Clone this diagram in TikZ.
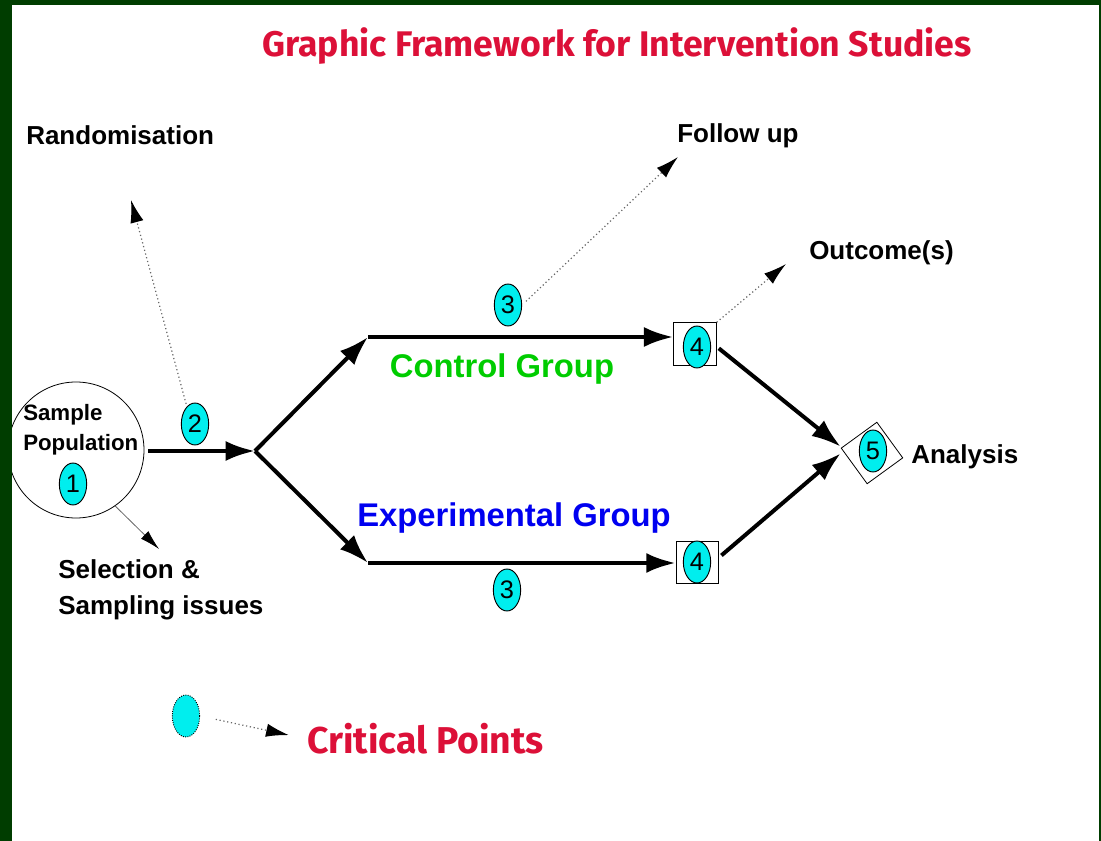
\documentclass[tikz,border=0pt]{standalone}
\usepackage{fontspec}
\setmainfont{Liberation Sans}
\newfontfamily\comicfont{Fira Sans}
\usetikzlibrary{arrows.meta,shapes.geometric}

\definecolor{framegreen}{RGB}{0,61,0}
\definecolor{critcyan}{RGB}{0,238,238}
\definecolor{titlered}{RGB}{220,16,56}
\definecolor{ctlgreen}{RGB}{0,204,0}
\definecolor{expblue}{RGB}{0,0,240}

\tikzset{
  crit/.style={ellipse, draw, line width=0.7pt, fill=critcyan, inner sep=0pt, minimum width=20.5pt,
    minimum height=31.5pt, font=\fontsize{19}{19}\selectfont},
  flow/.style={line width=3pt, -{Latex[length=22pt,width=15pt]}},
  hint/.style={black!60, dotted, line width=0.9pt, -{Latex[length=17pt,width=10pt,color=black]}},
  lbl/.style={inner sep=0pt, align=left, font=\bfseries\fontsize{19.5}{27}\selectfont},
  grouplbl/.style={inner sep=0pt, font=\bfseries\fontsize{24.6}{28}\selectfont},
  redlbl/.style={inner sep=0pt, text=titlered, font=\comicfont\bfseries\fontsize{26.7}{28}\selectfont}
}

\begin{document}
\begin{tikzpicture}[x=0.75pt, y=-0.75pt]
\useasboundingbox (0,0) rectangle (1101,841);

\node[redlbl] (title) at (617,46) {Graphic Framework for Intervention Studies};

% population and randomisation
\node[circle, draw, line width=0.6pt, minimum size=102pt, inner sep=0pt] (pop) at (76,450) {};
\node[anchor=west, inner sep=0pt, align=left, font=\bfseries\fontsize{16.7}{22.5}\selectfont] (poptxt) at (23,430) {Sample\\Population};
\node[crit] (c1) at (73,484) {1};
\node[crit] (c2) at (195,424) {2};
\node[lbl, anchor=west] (rand) at (26,135) {Randomisation};
\node[lbl, anchor=west] (sel) at (58,590) {Selection \&\\Sampling issues};

\coordinate (fork) at (255,451);
\coordinate (ctl) at (368,337);
\coordinate (exp) at (368,563);
\coordinate (randtip) at (131,200);
\coordinate (seltip) at (159,549);

% groups
\node[grouplbl, text=ctlgreen] (ctllbl) at (502,369) {Control Group};
\node[grouplbl, text=expblue] (explbl) at (514,518) {Experimental Group};
\node[crit] (c3a) at (508,305) {3};
\node[crit] (c3b) at (507,590) {3};
\node[draw, line width=0.6pt, minimum size=32pt, inner sep=0pt] (b4a) at (695,344) {};
\node[crit] (c4a) at (697,347) {4};
\node[draw, line width=0.6pt, minimum size=31.5pt, inner sep=0pt] (b4b) at (697,562) {};
\node[crit] (c4b) at (697,562) {4};
\node[lbl, anchor=west] (follow) at (677,136) {Follow up};
\node[lbl, anchor=west] (outc) at (809,253) {Outcome(s)};
\coordinate (followtip) at (678,157);
\coordinate (outtip) at (786,264);

% analysis
\node[draw, line width=0.6pt, rotate=36, minimum size=33pt, inner sep=0pt] (dia) at (872,453) {};
\node[crit] (c5) at (873,451) {5};
\node[lbl, anchor=west] (anal) at (911,457) {Analysis};

\draw[flow, shorten <=3pt] (pop.east |- fork) -- (fork);
\draw[flow] (fork) -- (ctl);
\draw[flow] (fork) -- (exp);
\draw[flow] (ctl) -- (ctl -| b4a.west);
\draw[flow] (exp) -- (exp -| b4b.west);
\draw[flow, shorten <=2pt] ([yshift=-2pt]b4a.east) -- ([yshift=1pt]dia.north west);
\draw[flow, shorten <=3pt] ([yshift=3pt]b4b.east) -- ([yshift=-4pt]dia.north west);

\draw[hint, shorten <=2pt] (c2.115) -- (randtip);
\draw[hint, shorten <=4pt] (c3a.east) -- (followtip);
\draw[hint] (b4a.north east) -- (outtip);
\draw[black!60, line width=0.6pt, -{Latex[length=15pt,width=8pt,color=black]}] (pop.-55) -- (seltip);

% legend
\node[crit, densely dotted] (legend) at (186,716) {};
\node[redlbl, anchor=west, font=\comicfont\bfseries\fontsize{28}{30}\selectfont] (critlbl) at (307,739) {Critical Points};
\draw[hint, shorten <=12pt, shorten >=14pt] (legend.east) -- (critlbl.west);

% frame
\fill[framegreen] (0,0) rectangle (12,841);
\fill[framegreen] (0,0) rectangle (1101,5);
\fill[framegreen] (1099,0) rectangle (1101,841);
\end{tikzpicture}
\end{document}
